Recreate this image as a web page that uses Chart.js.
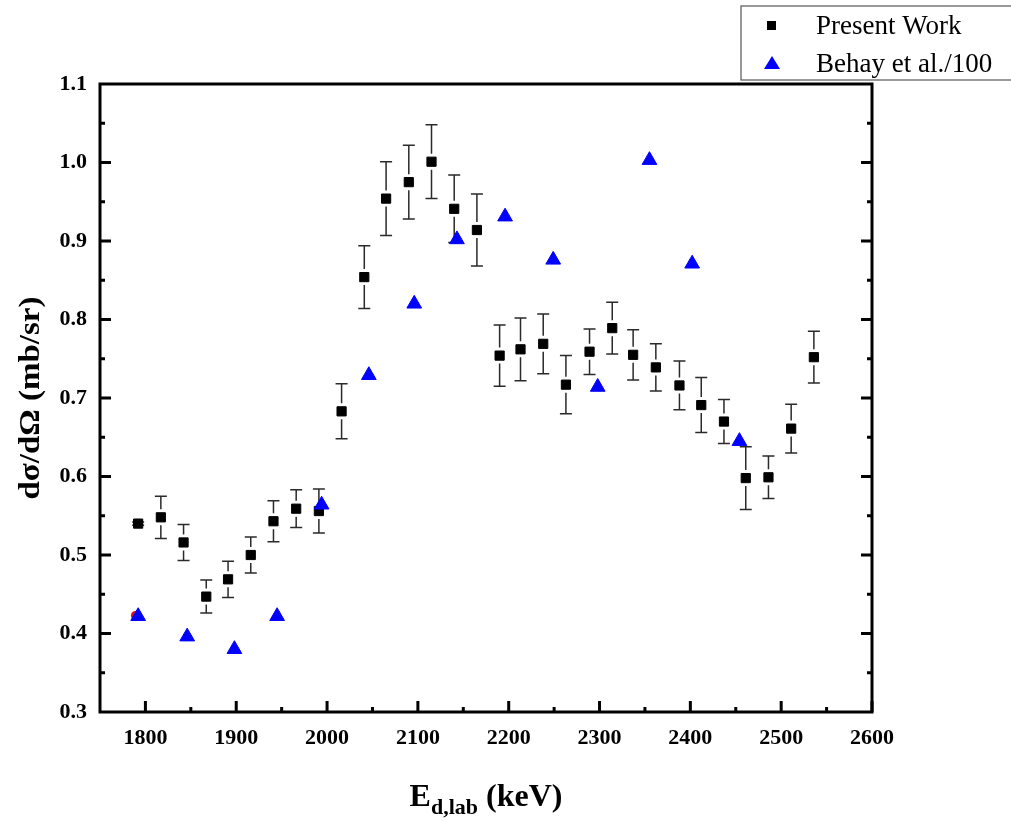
<!DOCTYPE html>
<html>
<head>
<meta charset="utf-8">
<title>Cross section vs deuteron energy</title>
<script src="https://cdn.jsdelivr.net/npm/chart.js@4.4.1/dist/chart.umd.min.js"></script>
<style>
  html, body { margin: 0; padding: 0; background: #fff; }
  #wrap { width: 1011px; height: 821px; }
</style>
</head>
<body>
<div id="wrap"><canvas id="xsChart" width="1011" height="821"></canvas></div>
<script>
// tick labels
const xTickLabels = [1800, 1900, 2000, 2100, 2200, 2300, 2400, 2500, 2600];
const yTickLabels = [0.3, 0.4, 0.5, 0.6, 0.7, 0.8, 0.9, 1.0, 1.1];

// present work: energy (keV), cross section (mb/sr), error
const presentE = [1792, 1817, 1842, 1867, 1891, 1916, 1941, 1966, 1991, 2016,
                  2041, 2065, 2090, 2115, 2140, 2165, 2190, 2213, 2238, 2263,
                  2289, 2314, 2337, 2362, 2388, 2412, 2437, 2461, 2486, 2511, 2536];
const presentXs = [0.540, 0.548, 0.516, 0.447, 0.469, 0.500, 0.543, 0.559, 0.556, 0.683,
                   0.854, 0.954, 0.975, 1.001, 0.941, 0.914, 0.754, 0.762, 0.769, 0.717,
                   0.759, 0.789, 0.755, 0.739, 0.716, 0.691, 0.670, 0.598, 0.599, 0.661, 0.752];
const presentErr = [0.002, 0.027, 0.023, 0.021, 0.023, 0.023, 0.026, 0.024, 0.028, 0.035,
                    0.040, 0.047, 0.047, 0.047, 0.043, 0.046, 0.039, 0.040, 0.038, 0.037,
                    0.029, 0.033, 0.032, 0.030, 0.031, 0.035, 0.028, 0.040, 0.027, 0.031, 0.033];

// Behay et al. (divided by 100)
const behayE = [1792, 1846, 1898, 1945, 1994, 2046, 2096, 2143, 2196, 2249, 2298, 2355, 2402, 2454];
const behayXs = [0.422, 0.396, 0.380, 0.422, 0.564, 0.729, 0.820, 0.902, 0.931, 0.876, 0.714, 1.003, 0.871, 0.645];

// stray red point hidden behind the first triangle
const redE = [1789];
const redXs = [0.423];

const serif = "'Liberation Serif', 'Times New Roman', serif";

// error bars, drawn under the markers
const errorBars = {
    id: 'errorBars',
    beforeDatasetsDraw(chart) {
        const { ctx, scales: { x, y } } = chart;
        ctx.save();
        ctx.strokeStyle = '#2a2a2a';
        ctx.lineWidth = 1.5;
        presentE.forEach((e, i) => {
            const px = x.getPixelForValue(e);
            const py = y.getPixelForValue(presentXs[i]);
            const top = y.getPixelForValue(presentXs[i] + presentErr[i]);
            const bot = y.getPixelForValue(presentXs[i] - presentErr[i]);
            const gap = 8;
            ctx.beginPath();
            if (py - top > gap) { ctx.moveTo(px, top); ctx.lineTo(px, py - gap); }
            if (bot - py > gap) { ctx.moveTo(px, py + gap); ctx.lineTo(px, bot); }
            ctx.moveTo(px - 6, top); ctx.lineTo(px + 6, top);
            ctx.moveTo(px - 6, bot); ctx.lineTo(px + 6, bot);
            ctx.stroke();
        });
        ctx.restore();
    }
};

// frame, inward ticks, axis titles and legend box
const decorations = {
    id: 'decorations',
    afterDraw(chart) {
        const { ctx, chartArea: a, scales: { x, y } } = chart;
        ctx.save();
        ctx.strokeStyle = '#000';
        ctx.lineWidth = 3;
        ctx.strokeRect(a.left, a.top, a.right - a.left, a.bottom - a.top);

        ctx.beginPath();
        for (let v = 1800; v <= 2600; v += 50) {
            const px = x.getPixelForValue(v);
            const len = v % 100 === 0 ? 11 : 5;
            ctx.moveTo(px, a.bottom); ctx.lineTo(px, a.bottom - len);
        }
        for (let k = 1; k < 16; k++) {
            const v = 0.3 + k * 0.05;
            const py = y.getPixelForValue(v);
            const len = k % 2 === 0 ? 11 : 5;
            ctx.moveTo(a.left, py); ctx.lineTo(a.left + len, py);
            ctx.moveTo(a.right, py); ctx.lineTo(a.right - len, py);
        }
        ctx.stroke();

        // y title
        ctx.fillStyle = '#000';
        ctx.save();
        ctx.translate(31, (a.top + a.bottom) / 2);
        ctx.rotate(-Math.PI / 2);
        ctx.scale(1.1, 1);
        ctx.font = 'bold 30px ' + serif;
        ctx.textAlign = 'center';
        ctx.textBaseline = 'middle';
        ctx.fillText('dσ/dΩ (mb/sr)', 0, 0);
        ctx.restore();

        // x title with subscript
        const big = 'bold 32px ' + serif, small = 'bold 22px ' + serif;
        ctx.font = big; const wE = ctx.measureText('E').width;
        ctx.font = small; const wSub = ctx.measureText('d,lab').width;
        ctx.font = big; const wRest = ctx.measureText(' (keV)').width;
        let tx = (a.left + a.right) / 2 - (wE + wSub + wRest) / 2;
        const base = 806;
        ctx.textAlign = 'left';
        ctx.textBaseline = 'alphabetic';
        ctx.font = big; ctx.fillText('E', tx, base); tx += wE;
        ctx.font = small; ctx.fillText('d,lab', tx, base + 8); tx += wSub;
        ctx.font = big; ctx.fillText(' (keV)', tx, base);

        // legend
        ctx.lineWidth = 1.2;
        ctx.strokeStyle = '#555';
        ctx.fillStyle = '#fff';
        ctx.fillRect(741, 6, 280, 74);
        ctx.strokeRect(741, 6, 280, 74);
        ctx.fillStyle = '#000';
        ctx.fillRect(767, 21, 9, 9);
        ctx.fillStyle = '#0000ff';
        ctx.beginPath();
        ctx.moveTo(772, 56); ctx.lineTo(780, 69); ctx.lineTo(764, 69); ctx.closePath();
        ctx.fill();
        ctx.fillStyle = '#000';
        ctx.font = '27px ' + serif;
        ctx.fillText(chart.data.datasets[0].label, 816, 34);
        ctx.fillText(chart.data.datasets[2].label, 816, 72);
        ctx.restore();
    }
};

const ctx = document.getElementById('xsChart').getContext('2d');
new Chart(ctx, {
    type: 'scatter',
    data: {
        datasets: [
            {
                label: 'Present Work',
                data: presentE.map((e, i) => ({ x: e, y: presentXs[i] })),
                pointStyle: 'rect',
                pointRadius: 6.5,
                backgroundColor: '#000',
                borderColor: '#000',
                borderWidth: 1,
                order: 3
            },
            {
                label: '',
                data: redE.map((e, i) => ({ x: e, y: redXs[i] })),
                pointStyle: 'circle',
                pointRadius: 4.5,
                backgroundColor: '#e01010',
                borderWidth: 0,
                order: 2
            },
            {
                label: 'Behay et al./100',
                data: behayE.map((e, i) => ({ x: e, y: behayXs[i] })),
                pointStyle: 'triangle',
                pointRadius: 8.5,
                backgroundColor: '#0000ff',
                borderColor: '#0000ff',
                borderWidth: 1,
                order: 1
            }
        ]
    },
    options: {
        responsive: false,
        animation: false,
        devicePixelRatio: 1,
        layout: { padding: { top: 84, right: 139, left: 0, bottom: 0 } },
        plugins: {
            legend: { display: false },
            tooltip: { enabled: false }
        },
        scales: {
            x: {
                type: 'linear',
                min: 1750,
                max: 2600,
                afterBuildTicks: (s) => { s.ticks = xTickLabels.map(v => ({ value: v })); },
                afterFit: (s) => { s.height = 109; },
                grid: { display: false, drawTicks: false },
                border: { display: false },
                ticks: {
                    autoSkip: false,
                    maxRotation: 0,
                    padding: 13,
                    color: '#000',
                    font: { family: serif, size: 22, weight: 'bold' },
                    callback: (v) => String(v)
                }
            },
            y: {
                type: 'linear',
                min: 0.3,
                max: 1.1,
                afterBuildTicks: (s) => { s.ticks = yTickLabels.map(v => ({ value: v })); },
                afterFit: (s) => { s.width = 100; },
                grid: { display: false, drawTicks: false },
                border: { display: false },
                ticks: {
                    padding: 13,
                    color: '#000',
                    font: { family: serif, size: 22, weight: 'bold' },
                    callback: (v) => Number(v).toFixed(1)
                }
            }
        }
    },
    plugins: [errorBars, decorations]
});
</script>
</body>
</html>
